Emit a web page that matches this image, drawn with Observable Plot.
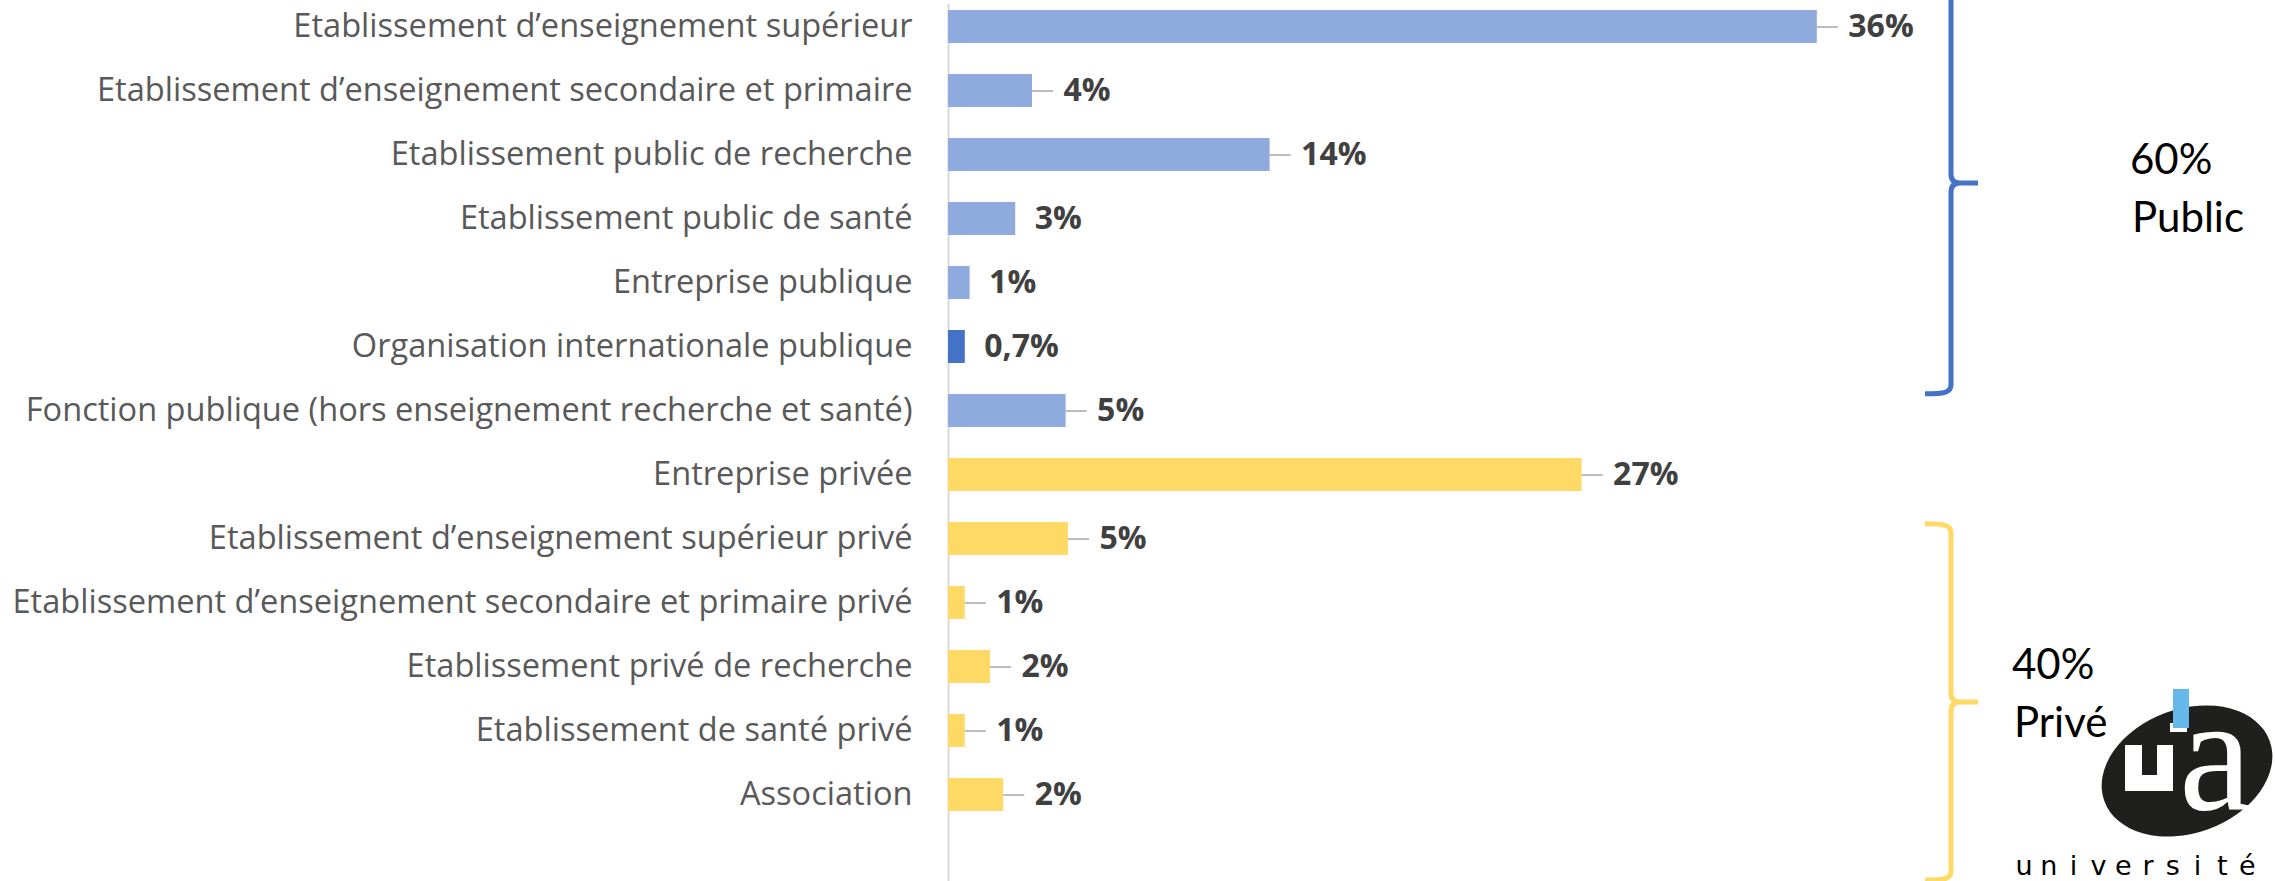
<!DOCTYPE html>
<html>
<head>
<meta charset="utf-8">
<script src="https://cdn.jsdelivr.net/npm/d3@7"></script>
<script src="https://cdn.jsdelivr.net/npm/@observablehq/plot@0.6"></script>
<style>
  html, body { margin: 0; padding: 0; background: #ffffff; }
  #chart { width: 2275px; height: 881px; overflow: hidden; }
</style>
</head>
<body>
<div id="chart"></div>
<script>
// ---------- data ----------
const categories = [
  "Etablissement d’enseignement supérieur",
  "Etablissement d’enseignement secondaire et primaire",
  "Etablissement public de recherche",
  "Etablissement public de santé",
  "Entreprise publique",
  "Organisation internationale publique",
  "Fonction publique (hors enseignement recherche et santé)",
  "Entreprise privée",
  "Etablissement d’enseignement supérieur privé",
  "Etablissement d’enseignement secondaire et primaire privé",
  "Etablissement privé de recherche",
  "Etablissement de santé privé",
  "Association"
];
const shares = [36.2, 3.5, 13.4, 2.8, 0.9, 0.7, 4.9, 26.4, 5.0, 0.7, 1.75, 0.7, 2.3];
const shareLabels = ["36%", "4%", "14%", "3%", "1%", "0,7%", "5%", "27%", "5%", "1%", "2%", "1%", "2%"];
const sectors = ["Public", "Public", "Public", "Public", "Public", "Public", "Public",
                 "Privé", "Privé", "Privé", "Privé", "Privé", "Privé"];
const sectorNames = ["Public", "Privé"];
const sectorTotals = ["60%", "40%"];

// ---------- styling / annotation layout ----------
const W = 2275, H = 881;
const sectorColors = {"Public": "#8FAADC", "Privé": "#FFD966"};
const highlighted = "Organisation internationale publique";
const highlightColor = "#4472C4";
const withoutLeader = new Set(["Etablissement public de santé", "Entreprise publique", "Organisation internationale publique"]);
const xMax = 55.29;
const mLeft = 948;
const unitPx = (W - mLeft) / xMax;

const rows = categories.map((c, i) => ({
  category: c, share: shares[i], label: shareLabels[i], sector: sectors[i],
  leader: !withoutLeader.has(c),
  color: c === highlighted ? highlightColor : sectorColors[sectors[i]]
}));

// brace positions in band steps (0 = centre of first band), text offsets in px
const braces = [
  {sector: "Public", color: "#4472C4", top: -0.85, mid: 2.445, bottom: 5.74, tdx: 179, dyShare: -9, dyName: 49},
  {sector: "Privé", color: "#FFD966", top: 7.77, mid: 10.555, bottom: 13.34, tdx: 61, dyShare: -23, dyName: 35}
];

function bracePath(vx, top, mid, bot, hx, tx) {
  const r = 9;
  return `M${hx},${top} C${vx - 7},${top} ${vx},${top + 1} ${vx},${top + r}` +
    ` L${vx},${mid - r} C${vx},${mid - 3} ${vx + 3},${mid} ${vx + r},${mid} L${tx},${mid}` +
    ` M${vx + r},${mid} C${vx + 3},${mid} ${vx},${mid + 3} ${vx},${mid + r}` +
    ` L${vx},${bot - r} C${vx},${bot - 1} ${vx - 7},${bot} ${hx},${bot}`;
}

function annotations(index, scales, values, dims) {
  const x = scales.x, y = scales.y;
  const y0 = y(categories[0]);
  const step = y(categories[1]) - y0;
  const bw = y.bandwidth ? y.bandwidth() : step * 0.516;
  const pos = p => y0 + bw / 2 + p * step;
  const g = d3.create("svg:g").attr("text-anchor", "start");
  const vx = x(41.79), hx = vx - 26, tx = vx + 27;
  for (const b of braces) {
    const top = pos(b.top), mid = pos(b.mid), bot = pos(b.bottom);
    g.append("path")
      .attr("d", bracePath(vx, top, mid, bot, hx, tx))
      .attr("fill", "none").attr("stroke", b.color)
      .attr("stroke-width", 5).attr("stroke-linejoin", "round");
    const k = sectorNames.indexOf(b.sector);
    g.append("text").attr("x", vx + b.tdx).attr("y", mid + b.dyShare)
      .attr("text-anchor", "start")
      .attr("font-family", "Lato, 'Open Sans', sans-serif").attr("font-size", 42)
      .attr("fill", "#000").text(sectorTotals[k]);
    g.append("text").attr("x", vx + b.tdx + 2).attr("y", mid + b.dyName)
      .attr("text-anchor", "start")
      .attr("font-family", "Lato, 'Open Sans', sans-serif").attr("font-size", 42)
      .attr("fill", "#000").text(sectorNames[k]);
  }
  // logo (bottom-right)
  const lx = dims.width - 88, ly = dims.height - 110;
  const logo = g.append("g").attr("transform", `translate(${lx},${ly})`);
  logo.append("ellipse").attr("cx", 0).attr("cy", 0).attr("rx", 88).attr("ry", 62)
    .attr("transform", "rotate(-20)").attr("fill", "#1F1F1D");
  logo.append("path").attr("fill", "#fff")
    .attr("d", "M-62,-26 L-45,-26 L-45,4 L-30,4 L-30,-26 L-14,-26 L-14,20 L-62,20 Z");
  logo.append("rect").attr("x", -17).attr("y", -48).attr("width", 17).attr("height", 9).attr("fill", "#fff");
  logo.append("rect").attr("x", -14).attr("y", -82).attr("width", 16).attr("height", 39).attr("fill", "#67B8EA");
  logo.append("text").attr("x", -8).attr("y", 38).attr("text-anchor", "start")
    .attr("font-family", "'Liberation Serif', 'DejaVu Serif', serif").attr("font-size", 165)
    .attr("fill", "#fff").text("a");
  const word = "université";
  for (let i = 0; i < word.length; i++) {
    logo.append("text").attr("x", -163 + i * 24.8).attr("y", 104)
      .attr("text-anchor", "middle")
      .attr("font-family", "'DejaVu Sans', sans-serif").attr("font-size", 27)
      .attr("fill", "#000").text(word[i]);
  }
  return g.node();
}

const chart = Plot.plot({
  width: W,
  height: H,
  marginLeft: mLeft,
  marginRight: 0,
  marginTop: 4,
  marginBottom: 0,
  style: {fontFamily: "'Open Sans', Lato, sans-serif", fontSize: "32px", background: "#ffffff", overflow: "visible"},
  x: {domain: [0, xMax], axis: null},
  y: {domain: categories, range: [-5.5, 826.5], paddingInner: 0.484, paddingOuter: 0.242, axis: null},
  color: {type: "identity"},
  marks: [
    Plot.ruleX([0], {stroke: "#D9D9D9", strokeWidth: 2}),
    Plot.barX(rows, {x: "share", y: "category", fill: "color"}),
    Plot.axisY({tickSize: 0, tickPadding: 36, fontSize: 32.6, color: "#595959", label: null}),
    Plot.ruleY(rows.filter(d => d.leader), {
      y: "category", x1: "share", x2: d => d.share + 21 / unitPx,
      stroke: "#A6A6A6", strokeWidth: 1.5
    }),
    Plot.text(rows.filter(d => d.leader), {
      x: "share", y: "category", text: "label", dx: 31, textAnchor: "start",
      fontWeight: "bold", fontSize: 32, fill: "#404040"
    }),
    Plot.text(rows.filter(d => !d.leader), {
      x: "share", y: "category", text: "label", dx: 19, textAnchor: "start",
      fontWeight: "bold", fontSize: 32, fill: "#404040"
    }),
    annotations
  ]
});
document.getElementById("chart").appendChild(chart);
</script>
</body>
</html>
